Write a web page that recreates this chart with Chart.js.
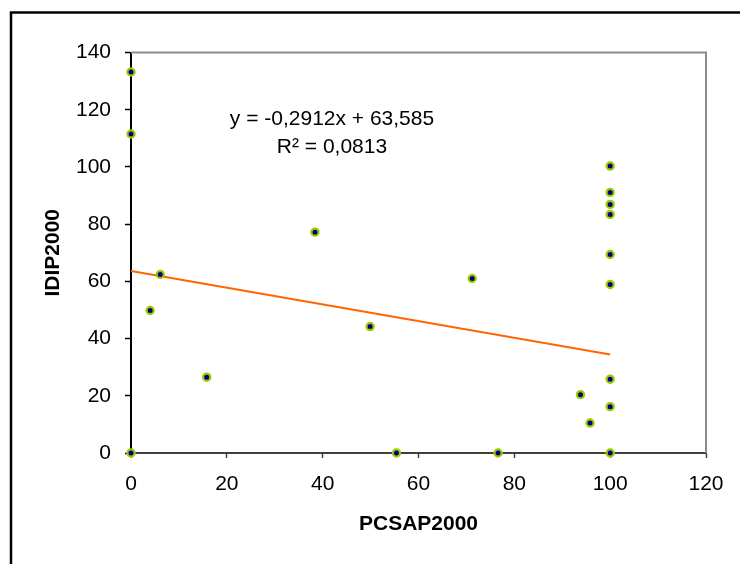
<!DOCTYPE html>
<html>
<head>
<meta charset="utf-8">
<script src="https://cdn.jsdelivr.net/npm/chart.js@4.4.0/dist/chart.umd.min.js"></script>
<style>
  html, body { margin: 0; padding: 0; background: #fff; }
  canvas { display: block; }
</style>
</head>
<body>
<canvas id="chart" width="740" height="564"></canvas>
<script>
// Values
const pcsap2000 = [0, 0, 0, 4.0, 6.1, 15.8, 38.4, 49.9, 55.4, 71.2, 76.6, 93.8, 95.8,
                   100, 100, 100, 100, 100, 100, 100, 100, 100];
const idip2000 = [133.2, 111.5, 0, 49.8, 62.4, 26.5, 77.2, 44.2, 0, 61.0, 0, 20.4, 10.5,
                  100.3, 91.1, 86.9, 83.4, 69.4, 58.9, 25.8, 16.2, 0];

// Linear trend line (end points from the printed equation)
const trendX = [0, 100];
const trendY = [63.585, 34.465];
const equationLines = ['y = -0,2912x + 63,585', 'R\u00b2 = 0,0813'];

const xTitle = 'PCSAP2000';
const yTitle = 'IDIP2000';

const FONT = '"Liberation Sans", Arial, sans-serif';

let points = pcsap2000.map((x, i) => ({ x: x, y: idip2000[i] }));
let trend = trendX.map((x, i) => ({ x: x, y: trendY[i] }));

// Outer frame, plot area frame and the trend line label
const decorations = {
    id: 'decorations',
    beforeDatasetsDraw(chart) {
        const ctx = chart.ctx;
        const a = chart.chartArea;
        ctx.save();
        ctx.strokeStyle = '#8c8c8c';
        ctx.lineWidth = 2;
        ctx.beginPath();
        ctx.moveTo(a.left, a.top);
        ctx.lineTo(a.right, a.top);
        ctx.lineTo(a.right, a.bottom);
        ctx.stroke();
        ctx.restore();
    },
    afterDraw(chart) {
        const ctx = chart.ctx;
        ctx.save();
        ctx.strokeStyle = '#000';
        ctx.lineWidth = 2.5;
        ctx.beginPath();
        ctx.moveTo(11, 570);
        ctx.lineTo(11, 12.5);
        ctx.lineTo(745, 12.5);
        ctx.stroke();

        ctx.fillStyle = '#000';
        ctx.font = '21px ' + FONT;
        ctx.textAlign = 'center';
        ctx.textBaseline = 'alphabetic';
        ctx.fillText(equationLines[0], 332, 125);
        ctx.fillText(equationLines[1], 332, 153);
        ctx.restore();
    }
};

new Chart(document.getElementById('chart').getContext('2d'), {
    type: 'scatter',
    data: {
        datasets: [
            {
                label: 'trend',
                type: 'line',
                data: trend,
                borderColor: '#ff6600',
                borderWidth: 2,
                pointRadius: 0,
                fill: false,
                clip: false,
                order: 2
            },
            {
                label: 'IDIP2000',
                data: points,
                backgroundColor: '#000080',
                borderColor: '#99cc00',
                borderWidth: 2.2,
                pointRadius: 3.6,
                clip: false,
                order: 1
            }
        ]
    },
    options: {
        responsive: false,
        animation: false,
        devicePixelRatio: 1,
        layout: { padding: { top: 52.5, right: 34, bottom: 0, left: 0 } },
        plugins: {
            legend: { display: false },
            tooltip: { enabled: false }
        },
        scales: {
            x: {
                type: 'linear',
                min: 0,
                max: 120,
                afterFit(scale) { scale.height = 111; },
                ticks: {
                    stepSize: 20,
                    padding: 14,
                    color: '#000',
                    font: { family: FONT, size: 21 },
                    callback: v => String(v)
                },
                grid: {
                    display: true,
                    drawOnChartArea: false,
                    drawTicks: true,
                    tickLength: 5,
                    color: '#404040',
                    tickColor: '#404040',
                    tickWidth: 1.5
                },
                border: { display: true, color: '#404040', width: 2 },
                title: {
                    display: true,
                    text: xTitle,
                    color: '#000',
                    padding: { top: 0, bottom: 27.4 },
                    font: { family: FONT, size: 21, weight: 'bold' }
                }
            },
            y: {
                type: 'linear',
                min: 0,
                max: 140,
                afterFit(scale) { scale.width = 131; },
                ticks: {
                    stepSize: 20,
                    padding: 14,
                    color: '#000',
                    font: { family: FONT, size: 21 },
                    callback: v => String(v)
                },
                grid: {
                    display: true,
                    drawOnChartArea: false,
                    drawTicks: true,
                    tickLength: 6,
                    color: '#000',
                    tickColor: '#000',
                    tickWidth: 1.5
                },
                border: { display: true, color: '#000', width: 2 },
                title: {
                    display: true,
                    text: yTitle,
                    color: '#000',
                    padding: { top: 40.4, bottom: 0 },
                    font: { family: FONT, size: 21, weight: 'bold' }
                }
            }
        }
    },
    plugins: [decorations]
});
</script>
</body>
</html>
